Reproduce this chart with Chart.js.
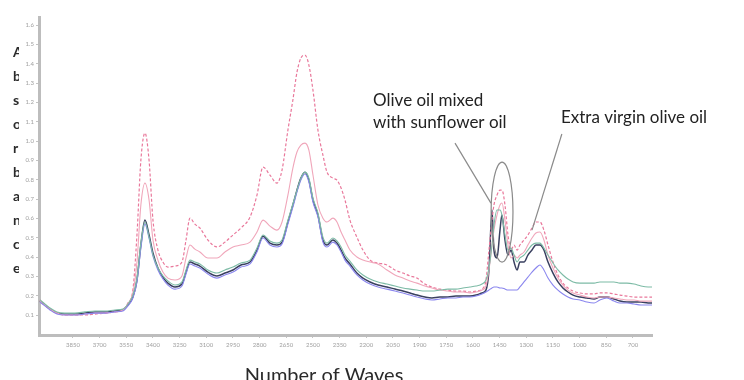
<!DOCTYPE html>
<html>
<head>
<meta charset="utf-8">
<script src="https://cdn.jsdelivr.net/npm/chart.js@4/dist/chart.umd.min.js"></script>
<style>
  html, body { margin: 0; padding: 0; background: #ffffff; }
  canvas { display: block; }
</style>
</head>
<body>
<canvas id="spectrum" width="744" height="380"></canvas>
<script>
// Wavenumber grid (cm-1), high to low
const waveNumbers = [4036, 4008, 3979, 3940, 3895, 3839, 3782, 3726, 3670, 3614,
  3569, 3541, 3513, 3490, 3468, 3445, 3422, 3400, 3372, 3344,
  3316, 3276, 3237, 3214, 3192, 3164, 3136, 3091, 3040, 2995,
  2950, 2905, 2854, 2815, 2781, 2742, 2703, 2674, 2641, 2613,
  2590, 2568, 2545, 2523, 2500, 2472, 2444, 2421, 2388, 2365,
  2342, 2320, 2292, 2253, 2219, 2179, 2134, 2084, 2039, 1994,
  1954, 1915, 1870, 1831, 1786, 1741, 1696, 1656, 1617, 1583,
  1549, 1527, 1510, 1493, 1482, 1465, 1448, 1437, 1420, 1403,
  1386, 1369, 1352, 1336, 1313, 1291, 1268, 1246, 1223, 1201,
  1178, 1150, 1122, 1094, 1066, 1037, 998, 959, 919, 886,
  847, 807, 773, 734, 694, 655, 615, 593];

// Absorbance of each sample
const mixedHigh = [0.178, 0.152, 0.131, 0.110, 0.100, 0.100, 0.100, 0.105, 0.110, 0.116,
  0.126, 0.162, 0.229, 0.514, 0.901, 1.041, 0.901, 0.591, 0.436, 0.374,
  0.348, 0.353, 0.374, 0.488, 0.601, 0.570, 0.550, 0.488, 0.452, 0.477,
  0.514, 0.550, 0.607, 0.720, 0.865, 0.824, 0.782, 0.850, 1.056, 1.212,
  1.356, 1.429, 1.444, 1.393, 1.263, 1.056, 0.927, 0.839, 0.808, 0.798,
  0.757, 0.695, 0.591, 0.503, 0.436, 0.384, 0.369, 0.359, 0.333, 0.317,
  0.302, 0.291, 0.260, 0.245, 0.234, 0.229, 0.224, 0.224, 0.219, 0.224,
  0.234, 0.281, 0.436, 0.591, 0.669, 0.720, 0.746, 0.746, 0.669, 0.514,
  0.436, 0.462, 0.436, 0.462, 0.488, 0.514, 0.550, 0.581, 0.581, 0.539,
  0.462, 0.374, 0.307, 0.265, 0.240, 0.224, 0.214, 0.209, 0.209, 0.214,
  0.214, 0.209, 0.203, 0.198, 0.193, 0.193, 0.193, 0.193];

const mixedLow = [0.172, 0.152, 0.131, 0.110, 0.100, 0.100, 0.105, 0.110, 0.110, 0.116,
  0.126, 0.157, 0.214, 0.374, 0.669, 0.782, 0.695, 0.488, 0.384, 0.322,
  0.291, 0.281, 0.302, 0.395, 0.462, 0.441, 0.426, 0.395, 0.395, 0.426,
  0.452, 0.462, 0.477, 0.529, 0.591, 0.560, 0.539, 0.581, 0.720, 0.860,
  0.943, 0.979, 0.989, 0.953, 0.824, 0.669, 0.601, 0.581, 0.601, 0.581,
  0.529, 0.488, 0.436, 0.400, 0.384, 0.374, 0.364, 0.333, 0.307, 0.291,
  0.276, 0.265, 0.250, 0.240, 0.229, 0.224, 0.219, 0.219, 0.214, 0.219,
  0.229, 0.250, 0.333, 0.462, 0.539, 0.617, 0.669, 0.679, 0.591, 0.462,
  0.395, 0.410, 0.395, 0.410, 0.426, 0.462, 0.498, 0.524, 0.529, 0.488,
  0.410, 0.343, 0.291, 0.255, 0.229, 0.214, 0.203, 0.193, 0.188, 0.193,
  0.193, 0.188, 0.183, 0.178, 0.178, 0.172, 0.172, 0.172];

const oliveTeal = [0.178, 0.157, 0.136, 0.116, 0.110, 0.110, 0.116, 0.121, 0.121, 0.126,
  0.131, 0.157, 0.203, 0.291, 0.472, 0.581, 0.503, 0.410, 0.343, 0.302,
  0.276, 0.255, 0.271, 0.333, 0.384, 0.374, 0.364, 0.333, 0.317, 0.333,
  0.348, 0.369, 0.384, 0.446, 0.514, 0.483, 0.472, 0.488, 0.591, 0.674,
  0.746, 0.808, 0.839, 0.808, 0.705, 0.627, 0.503, 0.472, 0.498, 0.483,
  0.452, 0.410, 0.379, 0.333, 0.307, 0.286, 0.271, 0.260, 0.250, 0.240,
  0.234, 0.229, 0.224, 0.224, 0.229, 0.234, 0.234, 0.240, 0.245, 0.250,
  0.260, 0.281, 0.343, 0.462, 0.565, 0.643, 0.643, 0.617, 0.514, 0.436,
  0.446, 0.410, 0.374, 0.395, 0.410, 0.436, 0.462, 0.472, 0.472, 0.446,
  0.410, 0.369, 0.333, 0.307, 0.286, 0.271, 0.265, 0.265, 0.265, 0.271,
  0.271, 0.271, 0.265, 0.265, 0.260, 0.250, 0.245, 0.245];

const oliveBlue = [0.167, 0.147, 0.126, 0.105, 0.100, 0.100, 0.105, 0.110, 0.110, 0.116,
  0.121, 0.147, 0.188, 0.271, 0.446, 0.570, 0.498, 0.405, 0.333, 0.286,
  0.255, 0.234, 0.250, 0.312, 0.364, 0.353, 0.343, 0.312, 0.291, 0.307,
  0.322, 0.348, 0.364, 0.426, 0.498, 0.462, 0.452, 0.467, 0.570, 0.658,
  0.736, 0.798, 0.829, 0.788, 0.684, 0.607, 0.477, 0.452, 0.477, 0.462,
  0.426, 0.384, 0.353, 0.307, 0.281, 0.260, 0.245, 0.234, 0.224, 0.214,
  0.203, 0.193, 0.183, 0.178, 0.183, 0.188, 0.188, 0.193, 0.193, 0.198,
  0.209, 0.219, 0.229, 0.240, 0.245, 0.245, 0.240, 0.240, 0.234, 0.229,
  0.229, 0.229, 0.229, 0.245, 0.271, 0.296, 0.322, 0.343, 0.359, 0.333,
  0.291, 0.255, 0.229, 0.209, 0.193, 0.183, 0.178, 0.167, 0.162, 0.178,
  0.188, 0.172, 0.162, 0.162, 0.157, 0.152, 0.152, 0.152];

const oliveDark = [0.172, 0.152, 0.131, 0.110, 0.105, 0.105, 0.110, 0.116, 0.116, 0.121,
  0.126, 0.152, 0.193, 0.281, 0.462, 0.591, 0.514, 0.421, 0.343, 0.296,
  0.265, 0.245, 0.260, 0.322, 0.374, 0.364, 0.353, 0.322, 0.302, 0.317,
  0.333, 0.359, 0.374, 0.436, 0.508, 0.472, 0.462, 0.477, 0.581, 0.669,
  0.746, 0.808, 0.839, 0.798, 0.695, 0.617, 0.488, 0.462, 0.488, 0.472,
  0.436, 0.395, 0.364, 0.317, 0.291, 0.271, 0.255, 0.245, 0.234, 0.224,
  0.214, 0.203, 0.193, 0.188, 0.193, 0.193, 0.198, 0.198, 0.198, 0.203,
  0.214, 0.229, 0.333, 0.643, 0.436, 0.395, 0.539, 0.617, 0.488, 0.410,
  0.436, 0.374, 0.333, 0.374, 0.374, 0.410, 0.436, 0.462, 0.462, 0.436,
  0.374, 0.317, 0.271, 0.240, 0.219, 0.203, 0.193, 0.188, 0.183, 0.193,
  0.193, 0.183, 0.172, 0.167, 0.167, 0.167, 0.162, 0.162];

// Axis tick labels
const xTickValues = [3850, 3700, 3550, 3400, 3250, 3100, 2950, 2800, 2650, 2500, 2350,
  2200, 2050, 1900, 1750, 1600, 1450, 1300, 1150, 1000, 850, 700];
const yTickValues = [0.1, 0.2, 0.3, 0.4, 0.5, 0.6, 0.7, 0.8, 0.9, 1.0, 1.1, 1.2, 1.3, 1.4, 1.5, 1.6];

const yAxisTitle = 'Absorbance';
const xAxisTitle = 'Number of Waves';

// Callout notes, anchored in data units
const calloutMixed = { lines: ['Olive oil mixed', 'with sunflower oil'], x: 2162, y: [1.181, 1.067] };
const calloutVirgin = { lines: ['Extra virgin olive oil'], x: 1105, y: [1.093] };
const pointerMixed = { from: [1701, 0.989], to: [1499, 0.679] };
const pointerVirgin = { from: [1100, 1.036], to: [1268, 0.539] };
const ringMixed = { left: 1498, right: 1375, top: 0.891, bottom: 0.374 };

function pairs(values) {
  return waveNumbers.map((w, i) => ({ x: w, y: values[i] }));
}

const labelFont = '"Lato", "Open Sans", sans-serif';

const notes = {
  id: 'notes',
  afterDatasetsDraw(chart) {
    const { ctx, scales: { x, y } } = chart;
    ctx.save();
    ctx.strokeStyle = '#8a8a8a';
    ctx.lineWidth = 1.2;
    [pointerMixed, pointerVirgin].forEach(p => {
      ctx.beginPath();
      ctx.moveTo(x.getPixelForValue(p.from[0]), y.getPixelForValue(p.from[1]));
      ctx.lineTo(x.getPixelForValue(p.to[0]), y.getPixelForValue(p.to[1]));
      ctx.stroke();
    });
    const l = x.getPixelForValue(ringMixed.left), r = x.getPixelForValue(ringMixed.right);
    const t = y.getPixelForValue(ringMixed.top), b = y.getPixelForValue(ringMixed.bottom);
    ctx.beginPath();
    ctx.ellipse((l + r) / 2, (t + b) / 2, Math.abs(r - l) / 2, Math.abs(b - t) / 2, 0, 0, Math.PI * 2);
    ctx.stroke();

    ctx.fillStyle = '#222222';
    ctx.font = '17px ' + labelFont;
    ctx.textAlign = 'left';
    ctx.textBaseline = 'alphabetic';
    [calloutMixed, calloutVirgin].forEach(c => {
      c.lines.forEach((txt, i) => {
        ctx.fillText(txt, x.getPixelForValue(c.x), y.getPixelForValue(c.y[i]));
      });
    });
    ctx.restore();
  },
  afterDraw(chart) {
    const { ctx } = chart;
    ctx.save();
    // stacked letters of the vertical axis title, partly hidden behind the tick column
    ctx.beginPath();
    ctx.rect(0, 0, 19, chart.height);
    ctx.clip();
    ctx.fillStyle = '#2a2a2a';
    ctx.font = 'bold 14px ' + labelFont;
    ctx.textAlign = 'left';
    ctx.textBaseline = 'alphabetic';
    yAxisTitle.split('').forEach((ch, i) => {
      ctx.fillText(ch, 13, 57 + i * 24);
    });
    ctx.restore();

    ctx.save();
    ctx.fillStyle = '#2a2a2a';
    ctx.font = '20px ' + labelFont;
    ctx.textAlign = 'center';
    ctx.textBaseline = 'alphabetic';
    ctx.fillText(xAxisTitle, 324, 382);
    ctx.restore();
  }
};

const line = (data, color, width, dash) => ({
  data: pairs(data),
  borderColor: color,
  borderWidth: width,
  borderDash: dash || [],
  pointRadius: 0,
  fill: false,
  cubicInterpolationMode: 'monotone'
});

new Chart(document.getElementById('spectrum'), {
  type: 'line',
  data: {
    datasets: [
      line(oliveTeal, '#7dbba6', 1.1),
      line(oliveBlue, '#8a86ee', 1.1),
      line(mixedLow, '#f0a6ba', 1.1),
      line(mixedHigh, '#e9789b', 1.2, [3, 2]),
      line(oliveDark, '#3a4060', 1.5)
    ]
  },
  options: {
    responsive: false,
    animation: false,
    devicePixelRatio: 1,
    layout: { padding: { top: 17, right: 92, left: 0, bottom: 0 } },
    plugins: { legend: { display: false }, tooltip: { enabled: false } },
    scales: {
      x: {
        type: 'linear',
        reverse: true,
        min: 593,
        max: 4041,
        afterBuildTicks: s => { s.ticks = xTickValues.map(v => ({ value: v })); },
        afterFit: s => { s.height = 45; },
        grid: { display: true, drawOnChartArea: false, drawTicks: true, tickLength: 3, color: '#c4c4c4' },
        border: { display: true, color: '#bdbdbd', width: 3 },
        ticks: {
          autoSkip: false, maxRotation: 0, padding: 3,
          font: { size: 6, family: labelFont }, color: '#a0a0a0',
          callback: v => String(v)
        }
      },
      y: {
        type: 'linear',
        min: -0.0034,
        max: 1.6414,
        afterBuildTicks: s => { s.ticks = yTickValues.map(v => ({ value: v })); },
        afterFit: s => { s.width = 39; },
        grid: { display: true, drawOnChartArea: false, drawTicks: true, tickLength: 3, color: '#c4c4c4' },
        border: { display: true, color: '#bdbdbd', width: 3 },
        ticks: {
          autoSkip: false, padding: 2,
          font: { size: 6, family: labelFont }, color: '#a0a0a0',
          callback: v => v.toFixed(1)
        }
      }
    }
  },
  plugins: [notes]
});
</script>
</body>
</html>
